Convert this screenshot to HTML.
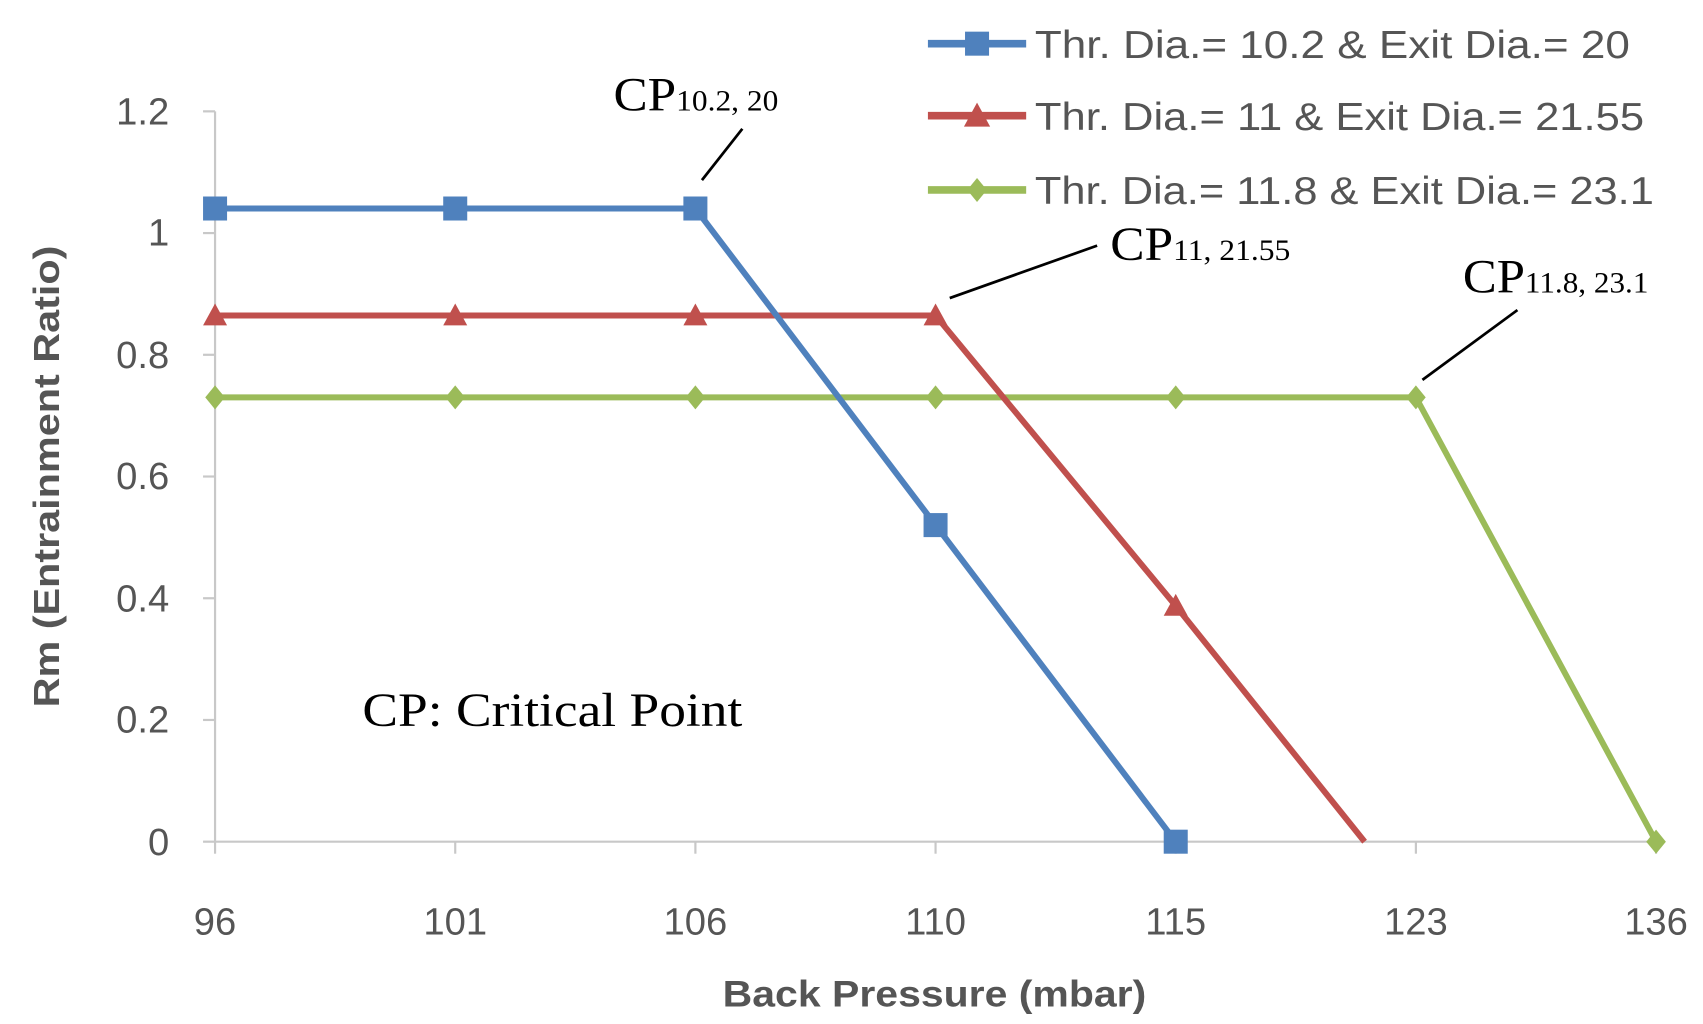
<!DOCTYPE html>
<html><head><meta charset="utf-8"><style>
html,body{margin:0;padding:0;background:#fff;}
svg{display:block;}
</style></head><body>
<svg width="1703" height="1024" viewBox="0 0 1560 938" preserveAspectRatio="none" xmlns="http://www.w3.org/2000/svg">
<rect width="1560" height="938" fill="#fff"/>
<g stroke="#c8c8c8" stroke-width="2" fill="none">
<line x1="197" y1="102" x2="197" y2="771"/>
<line x1="197" y1="771" x2="1517" y2="771"/>
<line x1="186" y1="102" x2="197" y2="102"/>
<line x1="186" y1="213.5" x2="197" y2="213.5"/>
<line x1="186" y1="325" x2="197" y2="325"/>
<line x1="186" y1="436.5" x2="197" y2="436.5"/>
<line x1="186" y1="548" x2="197" y2="548"/>
<line x1="186" y1="659.5" x2="197" y2="659.5"/>
<line x1="186" y1="771" x2="197" y2="771"/>
<line x1="197" y1="771" x2="197" y2="782"/>
<line x1="417" y1="771" x2="417" y2="782"/>
<line x1="637" y1="771" x2="637" y2="782"/>
<line x1="857" y1="771" x2="857" y2="782"/>
<line x1="1077" y1="771" x2="1077" y2="782"/>
<line x1="1297" y1="771" x2="1297" y2="782"/>
<line x1="1517" y1="771" x2="1517" y2="782"/>
</g>
<g font-family="Liberation Sans Narrow, Liberation Sans, sans-serif" font-size="35" fill="#555" text-anchor="end">
<text x="155" y="114">1.2</text><text x="155" y="225">1</text><text x="155" y="337">0.8</text>
<text x="155" y="448">0.6</text><text x="155" y="560">0.4</text><text x="155" y="671">0.2</text><text x="155" y="783">0</text>
</g>
<g font-family="Liberation Sans Narrow, Liberation Sans, sans-serif" font-size="35" fill="#555" text-anchor="middle">
<text x="197" y="856">96</text><text x="417" y="856">101</text><text x="637" y="856">106</text>
<text x="857" y="856">110</text><text x="1077" y="856">115</text><text x="1297" y="856">123</text><text x="1517" y="856">136</text>
</g>
<text x="662" y="922" textLength="388" lengthAdjust="spacingAndGlyphs" font-family="Liberation Sans, sans-serif" font-size="34" font-weight="bold" fill="#555">Back Pressure (mbar)</text>
<text transform="translate(54,648) rotate(-90)" textLength="423" lengthAdjust="spacingAndGlyphs" font-family="Liberation Sans, sans-serif" font-size="33" font-weight="bold" fill="#555">Rm (Entrainment Ratio)</text>
<!-- green -->
<polyline points="197,364 417,364 637,364 857,364 1077,364 1297,364 1517,771" fill="none" stroke="#9bbb59" stroke-width="5.5"/>
<g fill="#9bbb59">
<path d="M197,353 L206,364 L197,375 L188,364Z"/><path d="M417,353 L426,364 L417,375 L408,364Z"/>
<path d="M637,353 L646,364 L637,375 L628,364Z"/><path d="M857,353 L866,364 L857,375 L848,364Z"/>
<path d="M1077,353 L1086,364 L1077,375 L1068,364Z"/><path d="M1297,353 L1306,364 L1297,375 L1288,364Z"/>
<path d="M1517,760 L1526,771 L1517,782 L1508,771Z"/>
</g>
<!-- red -->
<polyline points="197,289 417,289 637,289 857,289 1077,555 1250,771" fill="none" stroke="#c0504d" stroke-width="5.5"/>
<g fill="#c0504d">
<path d="M197,278 L208,298 L186,298Z"/><path d="M417,278 L428,298 L406,298Z"/>
<path d="M637,278 L648,298 L626,298Z"/><path d="M857,278 L868,298 L846,298Z"/>
<path d="M1077,544 L1088,564 L1066,564Z"/>
</g>
<!-- blue -->
<polyline points="197,191 417,191 637,191 857,481 1077,771" fill="none" stroke="#4f81bd" stroke-width="5.5"/>
<g fill="#4f81bd">
<rect x="186" y="180" width="22" height="22"/><rect x="406" y="180" width="22" height="22"/>
<rect x="626" y="180" width="22" height="22"/><rect x="846" y="470" width="22" height="22"/>
<rect x="1066" y="760" width="22" height="22"/>
</g>
<!-- legend -->
<line x1="850" y1="40" x2="940" y2="40" stroke="#4f81bd" stroke-width="7"/>
<rect x="884" y="29" width="22" height="22" fill="#4f81bd"/>
<line x1="850" y1="106" x2="940" y2="106" stroke="#c0504d" stroke-width="7"/>
<path d="M895,94 L907,116 L883,116Z" fill="#c0504d"/>
<line x1="850" y1="174" x2="940" y2="174" stroke="#9bbb59" stroke-width="7"/>
<path d="M895,163 L904,174 L895,185 L886,174Z" fill="#9bbb59"/>
<g font-family="Liberation Sans, sans-serif" font-size="36" fill="#555" lengthAdjust="spacingAndGlyphs">
<text x="948" y="53" textLength="545" lengthAdjust="spacingAndGlyphs">Thr. Dia.= 10.2 &amp;  Exit Dia.= 20</text>
<text x="948" y="119" textLength="558" lengthAdjust="spacingAndGlyphs">Thr. Dia.= 11 &amp; Exit Dia.= 21.55</text>
<text x="948" y="187" textLength="567" lengthAdjust="spacingAndGlyphs">Thr. Dia.= 11.8 &amp; Exit Dia.= 23.1</text>
</g>
<!-- annotations -->
<g stroke="#000" stroke-width="2.5">
<line x1="643" y1="165" x2="680" y2="118"/>
<line x1="870" y1="273" x2="1005" y2="225"/>
<line x1="1303" y1="348" x2="1390" y2="284"/>
</g>
<g font-family="Liberation Serif, serif" fill="#000">
<text x="562" y="101" font-size="44" textLength="151" lengthAdjust="spacingAndGlyphs">CP<tspan font-size="27">10.2, 20</tspan></text>
<text x="1017" y="238" font-size="44" textLength="165" lengthAdjust="spacingAndGlyphs">CP<tspan font-size="27">11, 21.55</tspan></text>
<text x="1340" y="268" font-size="44" textLength="170" lengthAdjust="spacingAndGlyphs">CP<tspan font-size="27">11.8, 23.1</tspan></text>
<text x="332" y="665" font-size="44" textLength="348" lengthAdjust="spacingAndGlyphs">CP: Critical Point</text>
</g>
</svg>
</body></html>
